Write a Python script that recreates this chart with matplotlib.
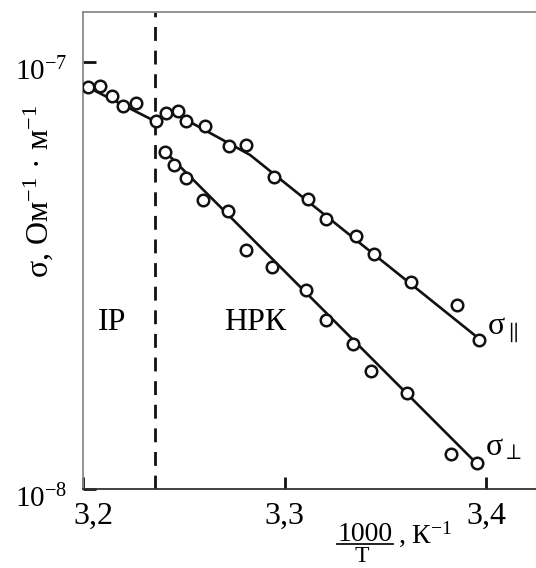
import numpy as np
import matplotlib.pyplot as plt
import matplotlib.transforms as mtransforms

plt.rcParams['font.family'] = ['Liberation Serif', 'DejaVu Serif']
plt.rcParams['mathtext.fontset'] = 'custom'
plt.rcParams['mathtext.rm'] = 'Liberation Serif'
plt.rcParams['mathtext.it'] = 'Liberation Serif:italic'

# isotropic phase, upper branch
x_ip = [3.2026, 3.2082, 3.2145, 3.2198, 3.2264, 3.2360]
s_ip = [8.72e-8, 8.80e-8, 8.34e-8, 7.89e-8, 8.03e-8, 7.29e-8]
# nematic, sigma parallel
x_par = [3.2413, 3.2469, 3.2509, 3.2604, 3.2723, 3.2810, 3.2950, 3.3117,
         3.3207, 3.3356, 3.3443, 3.3629, 3.3857, 3.3966]
s_par = [7.61e-8, 7.69e-8, 7.27e-8, 7.07e-8, 6.37e-8, 6.40e-8, 5.39e-8, 4.77e-8,
         4.29e-8, 3.92e-8, 3.55e-8, 3.05e-8, 2.70e-8, 2.23e-8]
# nematic, sigma perpendicular
x_per = [3.2407, 3.2453, 3.2510, 3.2597, 3.2718, 3.2809, 3.2938, 3.3109,
         3.3205, 3.3338, 3.3427, 3.3607, 3.3826, 3.3955]
s_per = [6.17e-8, 5.74e-8, 5.36e-8, 4.75e-8, 4.49e-8, 3.63e-8, 3.32e-8, 2.92e-8,
         2.49e-8, 2.19e-8, 1.89e-8, 1.68e-8, 1.21e-8, 1.15e-8]
# fitted lines
xl_ip = [3.2012, 3.2357]
sl_ip = [8.79e-8, 7.27e-8]
xl_par = [3.2432, 3.2829, 3.3960]
sl_par = [7.68e-8, 6.06e-8, 2.26e-8]
xl_per = [3.2397, 3.3931]
sl_per = [6.24e-8, 1.176e-8]
x_tr = 3.2357  # transition

xticks = [3.2, 3.3, 3.4]
xticklabels = ['3,2', '3,3', '3,4']
yticks = [1e-8, 1e-7]
yticklabels = [r'$10^{-8}$', r'$10^{-7}$']

W, H = 536, 568
fig = plt.figure(figsize=(W/100, H/100), dpi=100)
ax = fig.add_axes([83/W, 79/H, 453/W, 477/H])
ax.set_yscale('log')
ax.set_xlim(3.2, 3.4248)
ax.set_ylim(1e-8, 1.31e-7)

lc = '#111111'
for xs, ys in [(xl_ip, sl_ip), (xl_par, sl_par), (xl_per, sl_per)]:
    ax.plot(xs, ys, color=lc, lw=1.9, zorder=2)
for xs, ys in [(x_ip, s_ip), (x_par, s_par), (x_per, s_per)]:
    ax.plot(xs, ys, 'o', ms=8.3, mfc='white', mec=lc, mew=1.8, zorder=3)

ax.axvline(x_tr, color=lc, lw=2.0, dashes=(5, 3.5), zorder=1)

ax.spines['right'].set_visible(False)
ax.spines['left'].set_color('#8a8a8a')
ax.spines['top'].set_color('#8a8a8a')
ax.spines['bottom'].set_color('#333333')
for s in ['left', 'top', 'bottom']:
    ax.spines[s].set_linewidth(1.3)

ax.set_xticks(xticks)
ax.set_xticklabels(xticklabels)
ax.set_yticks(yticks)
ax.set_yticklabels(yticklabels)
ax.minorticks_off()
ax.tick_params(axis='both', direction='in', length=9, width=2, color=lc)
ax.tick_params(axis='x', labelsize=23, pad=9)
ax.tick_params(axis='y', labelsize=21, pad=11)

dy = mtransforms.ScaledTranslation(0, -7/100, fig.dpi_scale_trans)
for lab in ax.get_yticklabels():
    lab.set_transform(lab.get_transform() + dy)
dx = mtransforms.ScaledTranslation(10/100, 0, fig.dpi_scale_trans)
lab0 = ax.get_xticklabels()[0]
lab0.set_transform(lab0.get_transform() + dx)

ax.set_ylabel('σ, Ом$^{-1}$ · м$^{-1}$', fontsize=23)
ax.yaxis.set_label_coords(-0.062, 0.623)

# x axis label as fraction
fig.text(365/W, 1-541/H, '1000', fontsize=20, ha='center', va='baseline')
fig.add_artist(plt.Line2D([337/W, 393/W], [1-543.5/H, 1-543.5/H], color=lc, lw=1.3))
fig.text(362/W, 1-567/H, 'Т', fontsize=17, ha='center', va='bottom')
fig.text(398/W, 1-543/H, ', К$^{-1}$', fontsize=20, ha='left', va='baseline')

fig.text(112/W, 1-323/H, 'ІР', fontsize=23, ha='center', va='center')
fig.text(255/W, 1-323/H, 'НРК', fontsize=23, ha='center', va='center')
ax.text(3.4005, 2.32e-8, r'σ$_{\parallel}$', fontsize=23, ha='left', va='baseline')
ax.text(3.3995, 1.20e-8, r'σ$_{\perp}$', fontsize=23, ha='left', va='baseline')

fig.savefig('out.png', dpi=100)
